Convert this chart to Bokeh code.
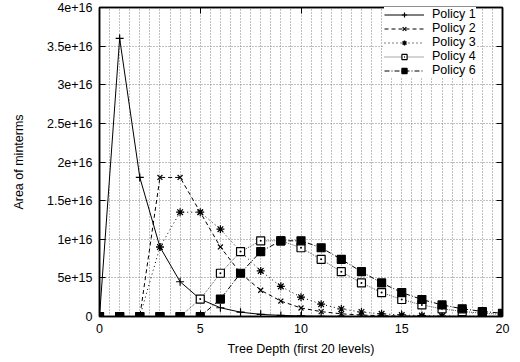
from bokeh.plotting import figure
from bokeh.models import (Range1d, LinearAxis, FixedTicker, SingleIntervalTicker,
                          Legend, LegendItem)
from bokeh.embed import file_html
from bokeh.resources import INLINE

# ---------------- data ----------------
depth = list(range(21))

policy1 = [0.0, 3.6e16, 1.8e16, 9.0e15, 4.5e15, 2.25e15, 1.13e15, 5.6e14, 2.8e14, 1.4e14,
           7.0e13, 3.5e13, 1.8e13, 9.0e12, 4.0e12, 2.0e12, 1.0e12, 5.0e11, 3.0e11, 1.0e11, 1.0e11]
policy2 = [0.0, 0.0, 0.0, 1.8e16, 1.8e16, 1.35e16, 9.0e15, 5.6e15, 3.4e15, 2.0e15,
           1.1e15, 6.3e14, 3.5e14, 1.9e14, 1.0e14, 6.0e13, 3.0e13, 2.0e13, 1.0e13, 5.0e12, 2.0e12]
policy3 = [0.0, 0.0, 0.0, 9.0e15, 1.35e16, 1.35e16, 1.13e16, 8.4e15, 5.9e15, 3.9e15,
           2.5e15, 1.6e15, 9.7e14, 5.8e14, 3.4e14, 2.0e14, 1.2e14, 6.6e13, 3.7e13, 2.1e13, 1.2e13]
policy4 = [0.0, 0.0, 0.0, 0.0, 0.0, 2.25e15, 5.6e15, 8.4e15, 9.8e15, 9.8e15,
           8.9e15, 7.4e15, 5.8e15, 4.35e15, 3.1e15, 2.2e15, 1.5e15, 1.0e15, 6.5e14, 4.2e14, 2.7e14]
policy6 = [0.0, 0.0, 0.0, 0.0, 0.0, 0.0, 2.25e15, 5.6e15, 8.4e15, 9.8e15,
           9.8e15, 8.9e15, 7.4e15, 5.8e15, 4.35e15, 3.1e15, 2.2e15, 1.5e15, 1.0e15, 6.5e14, 4.2e14]

series_names = ["Policy 1", "Policy 2", "Policy 3", "Policy 4", "Policy 6"]

x_ticks = [0, 5, 10, 15, 20]
x_tick_labels = ["0", "5", "10", "15", "20"]
y_ticks = [0, 5e15, 1e16, 1.5e16, 2e16, 2.5e16, 3e16, 3.5e16, 4e16]
y_tick_labels = ["0", "5e+15", "1e+16", "1.5e+16", "2e+16", "2.5e+16", "3e+16", "3.5e+16", "4e+16"]

x_title = "Tree Depth (first 20 levels)"
y_title = "Area of minterms"

# ---------------- styling ----------------
FONT = "Liberation Sans"
FS = "12.5px"

p = figure(width=520, height=362, output_backend="svg", toolbar_location=None,
           x_range=Range1d(0, 20), y_range=Range1d(0, 4e16),
           min_border_left=99, min_border_right=18, min_border_top=7, min_border_bottom=46)
p.background_fill_color = "white"
p.border_fill_color = "white"
p.outline_line_color = "black"
p.outline_line_width = 1.5

p.xaxis.ticker = FixedTicker(ticks=x_ticks)
p.xaxis.major_label_overrides = {t: l for t, l in zip(x_ticks, x_tick_labels)}
p.yaxis.ticker = FixedTicker(ticks=y_ticks)
p.yaxis.major_label_overrides = {t: l for t, l in zip(y_ticks, y_tick_labels)}
p.xaxis.axis_label = x_title
p.yaxis.axis_label = y_title

for ax in (p.xaxis[0], p.yaxis[0]):
    ax.major_tick_in = 6
    ax.major_tick_out = 0
    ax.minor_tick_in = 0
    ax.minor_tick_out = 0
    ax.axis_line_color = "black"
    ax.axis_line_width = 1.5
    ax.major_tick_line_color = "black"
    ax.major_label_text_font = FONT
    ax.major_label_text_font_size = FS
    ax.major_label_text_color = "black"
    ax.axis_label_text_font = FONT
    ax.axis_label_text_font_size = FS
    ax.axis_label_text_font_style = "normal"
    ax.axis_label_text_color = "black"

p.xaxis.major_label_standoff = 7
p.xaxis.axis_label_standoff = 6
p.yaxis.major_label_standoff = 7
p.yaxis.axis_label_standoff = 18

# mirrored inward ticks on top and right
for side, ticks in (("above", x_ticks), ("right", y_ticks)):
    ax = LinearAxis(ticker=FixedTicker(ticks=ticks), major_tick_in=6, major_tick_out=0,
                    minor_tick_in=0, minor_tick_out=0, major_label_text_font_size="0px",
                    major_label_standoff=0, axis_line_color="black", axis_line_width=1.5)
    ax.major_label_overrides = {t: "" for t in ticks}
    p.add_layout(ax, side)

# grid
p.xgrid.ticker = SingleIntervalTicker(interval=0.5)
p.xgrid.grid_line_color = "#808080"
p.xgrid.grid_line_dash = "1 2"
p.xgrid.grid_line_width = 1
p.ygrid.ticker = FixedTicker(ticks=y_ticks)
p.ygrid.grid_line_color = "#808080"
p.ygrid.grid_line_dash = "1 2"
p.ygrid.grid_line_width = 1

styles = [
    dict(data=policy1, dash="solid", color="black", marker="cross", size=8, fill="black"),
    dict(data=policy2, dash="4 3", color="black", marker="x", size=7, fill="black"),
    dict(data=policy3, dash="1 3", color="black", marker="asterisk", size=8, fill="black"),
    dict(data=policy4, dash="1 1", color="#555555", marker="square_dot", size=8, fill="white"),
    dict(data=policy6, dash="5 2 1 2", color="black", marker="square", size=8, fill="black"),
]

items = []
for name, st in zip(series_names, styles):
    ln = p.line(depth, st["data"], line_color=st["color"], line_width=1, line_dash=st["dash"])
    mk = p.scatter(depth, st["data"], marker=st["marker"], size=st["size"],
                   line_color="black", fill_color=st["fill"], line_width=1.2)
    items.append(LegendItem(label=name, renderers=[ln, mk]))

legend = Legend(items=items, location=(285, 239), orientation="vertical")
legend.label_text_font = FONT
legend.label_text_font_size = FS
legend.label_text_color = "black"
legend.glyph_width = 40
legend.glyph_height = 13
legend.label_height = 13
legend.label_standoff = 8
legend.spacing = 0
legend.padding = 2
legend.margin = 0
legend.border_line_color = None
legend.background_fill_color = "white"
legend.background_fill_alpha = 1.0
p.add_layout(legend)

open("out.html", "w").write(file_html(p, INLINE))
